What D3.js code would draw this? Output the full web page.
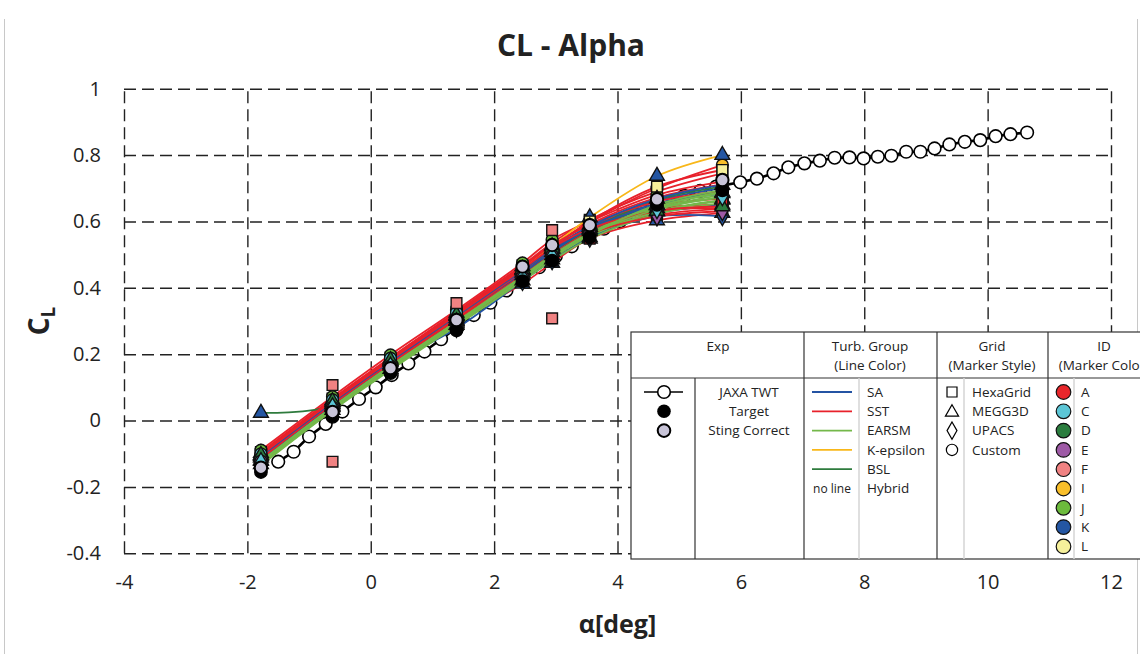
<!DOCTYPE html>
<html>
<head>
<meta charset="utf-8">
<script src="https://cdn.jsdelivr.net/npm/d3@7"></script>
<style>
  body { margin: 0; background: #fff; }
  text { font-family: "Open Sans", "Noto Sans", sans-serif; fill: #222; }
</style>
</head>
<body>
<div id="chart"></div>
<script>
// ---- data ----
const xTicks = [-4, -2, 0, 2, 4, 6, 8, 10, 12];
const yTicks = [-0.4, -0.2, 0, 0.2, 0.4, 0.6, 0.8, 1];

// JAXA TWT experiment
const expAlpha = [-1.50, -1.25, -1.00, -0.73, -0.46, -0.19, 0.08, 0.34, 0.61, 0.87, 1.14, 1.41, 1.67, 1.94,
  2.20, 2.47, 2.73, 3.00, 3.26, 3.52, 3.78, 4.04, 4.30, 4.56, 4.82, 5.08, 5.34, 5.60, 5.99, 6.26, 6.53,
  6.77, 7.03, 7.28, 7.52, 7.76, 7.99, 8.22, 8.44, 8.68, 8.91, 9.14, 9.38, 9.63, 9.88, 10.13, 10.37, 10.64];
const expCL = [-0.124, -0.094, -0.048, -0.010, 0.027, 0.065, 0.100, 0.137, 0.172, 0.208, 0.245, 0.282, 0.318, 0.355,
  0.392, 0.428, 0.462, 0.495, 0.525, 0.553, 0.578, 0.600, 0.622, 0.642, 0.660, 0.677, 0.692, 0.705, 0.718, 0.729, 0.745,
  0.763, 0.775, 0.783, 0.792, 0.793, 0.790, 0.795, 0.798, 0.810, 0.810, 0.820, 0.832, 0.840, 0.845, 0.857, 0.863, 0.868];

// CFD angles of attack
const cfdAlpha = [-1.78, -0.62, 0.32, 1.39, 2.46, 2.94, 3.55, 4.64, 5.70];
const targetCL = [-0.155, 0.011, 0.143, 0.272, 0.420, 0.482, 0.552, 0.650, 0.694];
const stingCL = [-0.142, 0.026, 0.158, 0.303, 0.464, 0.529, 0.589, 0.667, 0.725];

// CFD cases: marker colour (ID), marker style (grid), line colour (turbulence group)
const caseId = ["A", "A", "A", "C", "C", "D", "D", "E", "E", "E", "I", "I", "J", "J", "J", "K",
  "K", "K", "K", "K", "L", "L", "L", "J", "A", "C", "E", "K", "A", "D", "E", "C", "F", "F"];
const caseGrid = ["HexaGrid", "MEGG3D", "Custom", "HexaGrid", "MEGG3D", "Custom", "HexaGrid", "HexaGrid",
  "HexaGrid", "MEGG3D", "Custom", "HexaGrid", "Custom", "Custom", "MEGG3D", "MEGG3D", "MEGG3D", "UPACS",
  "UPACS", "MEGG3D", "HexaGrid", "HexaGrid", "HexaGrid", "HexaGrid", "HexaGrid", "Custom", "UPACS",
  "HexaGrid", "MEGG3D", "MEGG3D", "Custom", "UPACS", "HexaGrid", "HexaGrid"];
const caseTurb = ["SST", "SST", "SA", "SA", "SST", "BSL", "EARSM", "SA", "SST", "SA", "SST", "SST", "SST",
  "EARSM", "EARSM", "K-epsilon", "SST", "SA", "SST", "BSL", "SA", "SST", "EARSM", "EARSM", "EARSM", "SST",
  "SST", "EARSM", "SA", "SST", "EARSM", "EARSM", "Hybrid", "Hybrid"];
const caseCL = [
  [-0.100, 0.060, 0.185, 0.322, 0.462, 0.525, 0.592, 0.672, 0.712],
  [-0.105, 0.055, 0.180, 0.318, 0.455, 0.518, 0.583, 0.648, 0.668],
  [-0.110, 0.052, 0.177, 0.312, 0.452, 0.515, 0.585, 0.662, 0.700],
  [-0.112, 0.050, 0.175, 0.310, 0.450, 0.512, 0.580, 0.655, 0.690],
  [-0.098, 0.062, 0.186, 0.325, 0.465, 0.528, 0.590, 0.640, 0.650],
  [-0.118, 0.045, 0.170, 0.305, 0.445, 0.508, 0.575, 0.665, 0.705],
  [-0.128, 0.035, 0.160, 0.295, 0.432, 0.495, 0.562, 0.640, 0.680],
  [-0.115, 0.048, 0.172, 0.306, 0.440, 0.500, 0.565, 0.625, 0.650],
  [-0.108, 0.055, 0.178, 0.314, 0.448, 0.508, 0.568, 0.620, 0.638],
  [-0.120, 0.042, 0.168, 0.302, 0.438, 0.498, 0.570, 0.650, 0.685],
  [-0.102, 0.058, 0.183, 0.320, 0.460, 0.526, 0.598, 0.700, 0.770],
  [-0.095, 0.066, 0.190, 0.328, 0.468, 0.535, 0.605, 0.690, 0.745],
  [-0.089, 0.072, 0.198, 0.333, 0.475, 0.545, 0.600, 0.680, 0.720],
  [-0.125, 0.038, 0.162, 0.296, 0.430, 0.492, 0.560, 0.638, 0.672],
  [-0.132, 0.032, 0.155, 0.288, 0.422, 0.485, 0.552, 0.630, 0.665],
  [-0.112, 0.050, 0.176, 0.315, 0.455, 0.525, 0.612, 0.737, 0.800],
  [-0.122, 0.040, 0.165, 0.300, 0.412, 0.475, 0.548, 0.603, 0.625],
  [-0.120, 0.043, 0.168, 0.278, 0.420, 0.482, 0.550, 0.615, 0.615],
  [-0.110, 0.052, 0.176, 0.308, 0.445, 0.505, 0.570, 0.630, 0.640],
  [0.023, 0.045, 0.170, 0.308, 0.445, 0.508, 0.575, 0.650, 0.688],
  [-0.118, 0.046, 0.170, 0.305, 0.445, 0.508, 0.578, 0.650, 0.690],
  [-0.115, 0.050, 0.174, 0.308, 0.450, 0.518, 0.600, 0.705, 0.755],
  [-0.126, 0.037, 0.160, 0.294, 0.432, 0.495, 0.566, 0.645, 0.685],
  [-0.130, 0.034, 0.158, 0.292, 0.428, 0.490, 0.557, 0.628, 0.662],
  [-0.135, 0.030, 0.152, 0.286, 0.420, 0.482, 0.548, 0.622, 0.655],
  [-0.100, 0.063, 0.188, 0.326, 0.464, 0.528, 0.590, 0.660, 0.692],
  [-0.112, 0.049, 0.172, 0.304, 0.438, 0.498, 0.562, 0.615, 0.630],
  [-0.128, 0.036, 0.160, 0.294, 0.428, 0.492, 0.560, 0.650, 0.695],
  [-0.108, 0.054, 0.178, 0.315, 0.452, 0.516, 0.585, 0.668, 0.710],
  [-0.104, 0.058, 0.182, 0.318, 0.456, 0.520, 0.578, 0.632, 0.645],
  [-0.122, 0.040, 0.165, 0.298, 0.435, 0.498, 0.565, 0.645, 0.690],
  [-0.124, 0.041, 0.164, 0.298, 0.434, 0.497, 0.562, 0.636, 0.675],
  [null, 0.107, null, 0.354, null, 0.574, null, null, null],
  [null, -0.124, null, null, null, 0.308, null, null, null]
];

// legend entries
const turbGroups = ["SA", "SST", "EARSM", "K-epsilon", "BSL", "Hybrid"];
const gridTypes = ["HexaGrid", "MEGG3D", "UPACS", "Custom"];
const idList = ["A", "C", "D", "E", "F", "I", "J", "K", "L"];
const expLabels = ["JAXA TWT", "Target", "Sting Correct"];

// ---- styling ----
const turbColor = {"SA": "#2453a3", "SST": "#e8212b", "EARSM": "#74b84a", "K-epsilon": "#f8b719", "BSL": "#2e7b3d"};
const idColor = {A: "#e8262b", C: "#5cc6d6", D: "#2b7d3e", E: "#9e5aa6", F: "#f08282",
  I: "#f9bf2a", J: "#6cbb3c", K: "#2456a3", L: "#f6f09b"};
const gridSymbol = {HexaGrid: d3.symbolSquare, MEGG3D: d3.symbolTriangle, UPACS: d3.symbolDiamond, Custom: d3.symbolCircle};
const gridSize = {HexaGrid: 115, MEGG3D: 95, UPACS: 95, Custom: 110};
const stingFill = "#c8c4d8";

const width = 1140;
const height = 654;
const plot = {left: 124, right: 1111, top: 88.7, bottom: 553.3};

const svg = d3.select("#chart")
  .append("svg")
  .attr("width", width)
  .attr("height", height);

svg.append("rect").attr("width", width).attr("height", height).attr("fill", "#fff");

// faint chart-area frame
svg.append("line").attr("x1", 4.5).attr("x2", 4.5).attr("y1", 19).attr("y2", height).attr("stroke", "#c8c8c8");
svg.append("line").attr("x1", 1137.5).attr("x2", 1137.5).attr("y1", 19).attr("y2", height).attr("stroke", "#c8c8c8");

const x = d3.scaleLinear().domain([-4, 12]).range([plot.left, plot.right]);
const y = d3.scaleLinear().domain([-0.4, 1]).range([plot.bottom, plot.top]);

// axes with dashed gridlines
const gx = svg.append("g")
  .attr("transform", `translate(0,${plot.bottom})`)
  .call(d3.axisBottom(x).tickValues(xTicks).tickSizeInner(-(plot.bottom - plot.top)).tickSizeOuter(0)
    .tickPadding(22).tickFormat(d => d));
const gy = svg.append("g")
  .attr("transform", `translate(${plot.left},0)`)
  .call(d3.axisLeft(y).tickValues(yTicks).tickSizeInner(-(plot.right - plot.left)).tickSizeOuter(0)
    .tickPadding(23).tickFormat(d => d));

[gx, gy].forEach(g => {
  g.select(".domain").remove();
  g.selectAll(".tick line")
    .attr("stroke", "#222")
    .attr("stroke-width", 1.4)
    .attr("stroke-dasharray", "12,6");
  g.selectAll(".tick text")
    .attr("font-size", "20px")
    .attr("fill", "#222")
    .style("font-family", '"Open Sans", sans-serif');
});

// title and axis labels
svg.append("text")
  .attr("x", 571).attr("y", 56)
  .attr("text-anchor", "middle")
  .attr("font-size", "30px").attr("font-weight", "bold")
  .text("CL - Alpha");

svg.append("text")
  .attr("x", (plot.left + plot.right) / 2).attr("y", 633)
  .attr("text-anchor", "middle")
  .attr("font-size", "25px").attr("font-weight", "bold")
  .text("α[deg]");

const yl = svg.append("text")
  .attr("transform", `translate(49,${(plot.top + plot.bottom) / 2}) rotate(-90)`)
  .attr("text-anchor", "middle")
  .attr("font-size", "28px").attr("font-weight", "bold");
yl.append("tspan").text("C");
yl.append("tspan").attr("font-size", "19px").attr("dy", 6).text("L");

// experiment line
const expPts = expAlpha.map((a, i) => [a, expCL[i]]);
svg.append("path")
  .datum(expPts)
  .attr("fill", "none")
  .attr("stroke", "#000")
  .attr("stroke-width", 2.6)
  .attr("d", d3.line().x(d => x(d[0])).y(d => y(d[1])));
svg.append("g").selectAll("circle")
  .data(expPts)
  .enter()
  .append("circle")
  .attr("cx", d => x(d[0]))
  .attr("cy", d => y(d[1]))
  .attr("r", 6.3)
  .attr("fill", "#fff")
  .attr("stroke", "#000")
  .attr("stroke-width", 1.6);

// CFD lines
const cfdLine = d3.line()
  .defined(d => d[1] != null)
  .x(d => x(d[0]))
  .y(d => y(d[1]))
  .curve(d3.curveCatmullRom.alpha(0.5));

const lineGroup = svg.append("g");
caseCL.forEach((vals, i) => {
  if (caseTurb[i] === "Hybrid") return; // no line
  lineGroup.append("path")
    .datum(cfdAlpha.map((a, j) => [a, vals[j]]))
    .attr("fill", "none")
    .attr("stroke", turbColor[caseTurb[i]])
    .attr("stroke-width", 1.8)
    .attr("d", cfdLine);
});

// CFD markers
const markGroup = svg.append("g");
caseCL.forEach((vals, i) => {
  const pts = cfdAlpha.map((a, j) => [a, vals[j]]).filter(d => d[1] != null);
  markGroup.selectAll(null)
    .data(pts)
    .enter()
    .append("path")
    .attr("transform", d => `translate(${x(d[0])},${y(d[1])})`)
    .attr("d", d3.symbol().type(gridSymbol[caseGrid[i]]).size(gridSize[caseGrid[i]]))
    .attr("fill", idColor[caseId[i]])
    .attr("stroke", "#111")
    .attr("stroke-width", 1.4);
});

// Target and sting-corrected points
svg.append("g").selectAll("circle")
  .data(cfdAlpha.map((a, j) => [a, targetCL[j]]))
  .enter()
  .append("circle")
  .attr("cx", d => x(d[0])).attr("cy", d => y(d[1]))
  .attr("r", 6.2)
  .attr("fill", "#000").attr("stroke", "#000").attr("stroke-width", 1.4);
svg.append("g").selectAll("circle")
  .data(cfdAlpha.map((a, j) => [a, stingCL[j]]))
  .enter()
  .append("circle")
  .attr("cx", d => x(d[0])).attr("cy", d => y(d[1]))
  .attr("r", 6.2)
  .attr("fill", stingFill).attr("stroke", "#000").attr("stroke-width", 2);

// ---- legend table ----
const lg = svg.append("g");
const tb = {left: 631, top: 332, head: 378, bottom: 559, right: 1160};
const cols = [695, 804, 937, 1048];
const inner = [859, 964, 1074];
const rowY = i => 392 + i * 19.3;

lg.append("rect")
  .attr("x", tb.left).attr("y", tb.top)
  .attr("width", tb.right - tb.left).attr("height", tb.bottom - tb.top)
  .attr("fill", "#fff").attr("stroke", "#333").attr("stroke-width", 1.2);
lg.append("line").attr("x1", tb.left).attr("x2", tb.right).attr("y1", tb.head).attr("y2", tb.head)
  .attr("stroke", "#333").attr("stroke-width", 1.2);
cols.forEach((cx, i) => {
  lg.append("line")
    .attr("x1", cx).attr("x2", cx)
    .attr("y1", i === 0 ? tb.head : tb.top).attr("y2", tb.bottom)
    .attr("stroke", "#333").attr("stroke-width", 1.2);
});
inner.forEach(cx => {
  lg.append("line").attr("x1", cx).attr("x2", cx).attr("y1", tb.head).attr("y2", tb.bottom)
    .attr("stroke", "#d4d4d4").attr("stroke-width", 1.5);
});

const headText = (cx, lines) => {
  lines.forEach((t, k) => {
    lg.append("text")
      .attr("x", cx).attr("y", 351 + k * 19)
      .attr("text-anchor", "middle")
      .attr("font-size", "13.5px")
      .text(t);
  });
};
headText(718, ["Exp"]);
headText(870, ["Turb. Group", "(Line Color)"]);
headText(992, ["Grid", "(Marker Style)"]);
headText(1104, ["ID", "(Marker Color)"]);

const cellText = (tx, i, t, anchor, size) => {
  lg.append("text")
    .attr("x", tx).attr("y", rowY(i))
    .attr("dy", "0.35em")
    .attr("text-anchor", anchor || "start")
    .attr("font-size", size || "13.5px")
    .text(t);
};

// Exp column
lg.append("line").attr("x1", 644).attr("x2", 683).attr("y1", rowY(0)).attr("y2", rowY(0))
  .attr("stroke", "#000").attr("stroke-width", 1.6);
lg.append("circle").attr("cx", 664).attr("cy", rowY(0)).attr("r", 6.3)
  .attr("fill", "#fff").attr("stroke", "#000").attr("stroke-width", 1.6);
lg.append("circle").attr("cx", 664).attr("cy", rowY(1)).attr("r", 6.8).attr("fill", "#000");
lg.append("circle").attr("cx", 664).attr("cy", rowY(2)).attr("r", 6.3)
  .attr("fill", stingFill).attr("stroke", "#000").attr("stroke-width", 2);
expLabels.forEach((t, i) => cellText(749, i, t, "middle"));

// turbulence group column
turbGroups.forEach((t, i) => {
  if (turbColor[t]) {
    lg.append("line").attr("x1", 812).attr("x2", 852).attr("y1", rowY(i)).attr("y2", rowY(i))
      .attr("stroke", turbColor[t]).attr("stroke-width", 1.8);
  } else {
    cellText(832, i, "no line", "middle", "12px");
  }
  cellText(867, i, t);
});

// grid column
gridTypes.forEach((t, i) => {
  lg.append("path")
    .attr("transform", `translate(952,${rowY(i) + (t === "MEGG3D" ? 1 : 0)})`)
    .attr("d", d3.symbol().type(gridSymbol[t]).size(t === "MEGG3D" ? 75 : t === "UPACS" ? 85 : 100))
    .attr("fill", "#fff").attr("stroke", "#000").attr("stroke-width", 1.2);
  cellText(972, i, t);
});

// ID column
idList.forEach((t, i) => {
  lg.append("circle").attr("cx", 1063.5).attr("cy", rowY(i)).attr("r", 7.3)
    .attr("fill", idColor[t]).attr("stroke", "#111").attr("stroke-width", 1.2);
  cellText(1081, i, t);
});
</script>
</body>
</html>
